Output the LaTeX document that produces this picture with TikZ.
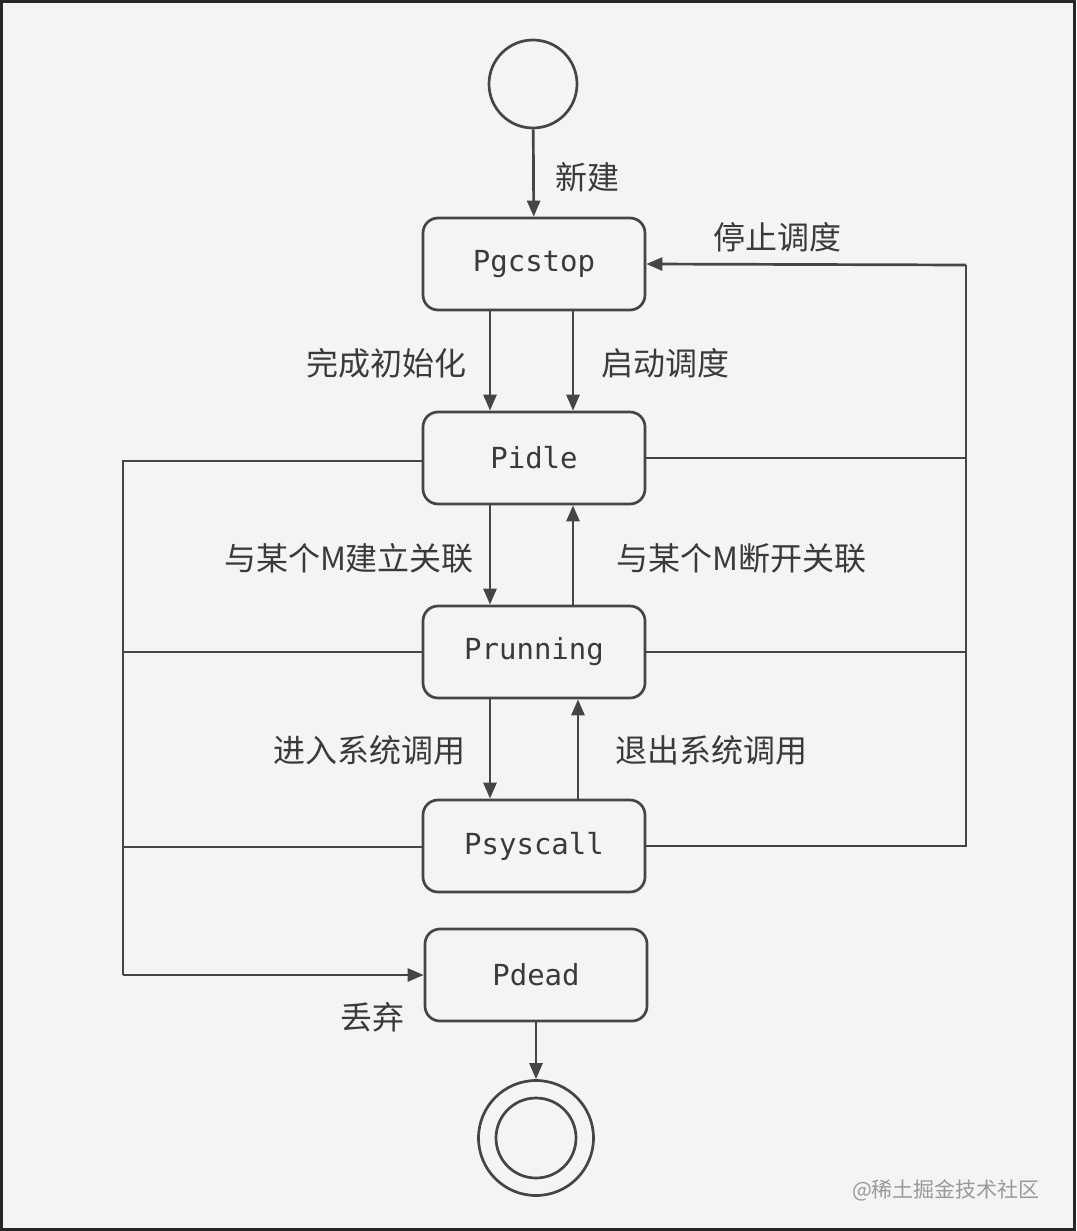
\documentclass[tikz,border=0pt]{standalone}
\usepackage{fontspec}
\setmonofont{DejaVu Sans Mono}
\newfontfamily\cjk{Noto Sans CJK SC}
\usetikzlibrary{arrows.meta,calc}
\definecolor{ink}{HTML}{454545}
\definecolor{txt}{HTML}{3A3A3A}
\definecolor{paper}{HTML}{F4F4F4}
\tikzset{
  statebox/.style={draw=ink, line width=2.7pt, rounded corners=15pt,
    minimum width=222pt, minimum height=92pt, inner sep=0pt,
    font=\ttfamily\fontsize{29}{34}\selectfont, text=txt},
  pseudo/.style={draw=ink, line width=2.7pt, circle, inner sep=0pt},
  wire/.style={draw=ink, line width=2.7pt},
  flow/.style={wire, -{Triangle[length=16pt,width=13pt]}},
  lbl/.style={font=\cjk\fontsize{32}{38}\selectfont, text=txt, inner sep=0pt},
}
\begin{document}
\begin{tikzpicture}[x=1pt,y=-1pt]
  % page with scanned-paper tone and frame
  \fill[paper] (0,0) rectangle (1076,1231);
  \draw[black!85, line width=3pt] (1.5,1.5) rectangle (1074.5,1229.5);
  \useasboundingbox (0,0) rectangle (1076,1231);

  % states
  \node[pseudo, minimum size=88pt] (start) at (533,84) {};
  \node[statebox] (pg) at (534,264) {Pgcstop};
  \node[statebox] (pi) at (534,458) {Pidle};
  \node[statebox] (pr) at (534,652) {Prunning};
  \node[statebox] (ps) at (534,846) {Psyscall};
  \node[statebox] (pd) at (536,975) {Pdead};
  \node[pseudo, minimum size=115pt] (stop) at (536,1138) {};
  \node[pseudo, minimum size=80pt] (stopin) at (536,1138) {};

  % bus corners
  \coordinate (lb) at (123,975);
  \coordinate (rt) at (966,265);

  % vertical transitions
  \draw[flow] (start) -- (pg);
  \draw[flow] ([xshift=-44pt]pg.south) -- ([xshift=-44pt]pi.north);
  \draw[flow] ([xshift=39pt]pg.south) -- ([xshift=39pt]pi.north);
  \draw[flow] ([xshift=-44pt]pi.south) -- ([xshift=-44pt]pr.north);
  \draw[flow] ([xshift=39pt]pr.north) -- ([xshift=39pt]pi.south);
  \draw[flow] ([xshift=-44pt]pr.south) -- ([xshift=-44pt]ps.north);
  \draw[flow] ([xshift=44pt]ps.north) -- ([xshift=44pt]pr.south);
  \draw[flow] (pd) -- (stop);

  % left bus: discard into Pdead
  \draw[wire] ([yshift=-3pt]pi.west) -- ([yshift=-3pt]pi.west -| lb) -- (lb);
  \draw[wire] (pr.west) -- (pr.west -| lb);
  \draw[wire] ([yshift=-1pt]ps.west) -- ([yshift=-1pt]ps.west -| lb);
  \draw[flow] (lb) -- (pd.west);

  % right bus: stop scheduling back to Pgcstop
  \draw[wire] (ps.east) -- (ps.east -| rt) -- (rt);
  \draw[wire] (pr.east) -- (pr.east -| rt);
  \draw[wire] (pi.east) -- (pi.east -| rt);
  \draw[flow] (rt) -- (pg.east);

  % labels
  \node[lbl] (l1) at (587,177) {新建};
  \node[lbl] (l2) at (777,237) {停止调度};
  \node[lbl] (l3) at (386,363) {完成初始化};
  \node[lbl] (l4) at (665,363) {启动调度};
  \node[lbl] (l5) at (349,558) {与某个M建立关联};
  \node[lbl] (l6) at (741,558) {与某个M断开关联};
  \node[lbl] (l7) at (369,750) {进入系统调用};
  \node[lbl] (l8) at (711,750) {退出系统调用};
  \node[lbl] (l9) at (372,1017) {丢弃};

  % watermark
  \node[font=\cjk\fontsize{21}{24}\selectfont, text=black!40, inner sep=0pt]
    (wm) at (946,1190) {@稀土掘金技术社区};
\end{tikzpicture}
\end{document}
